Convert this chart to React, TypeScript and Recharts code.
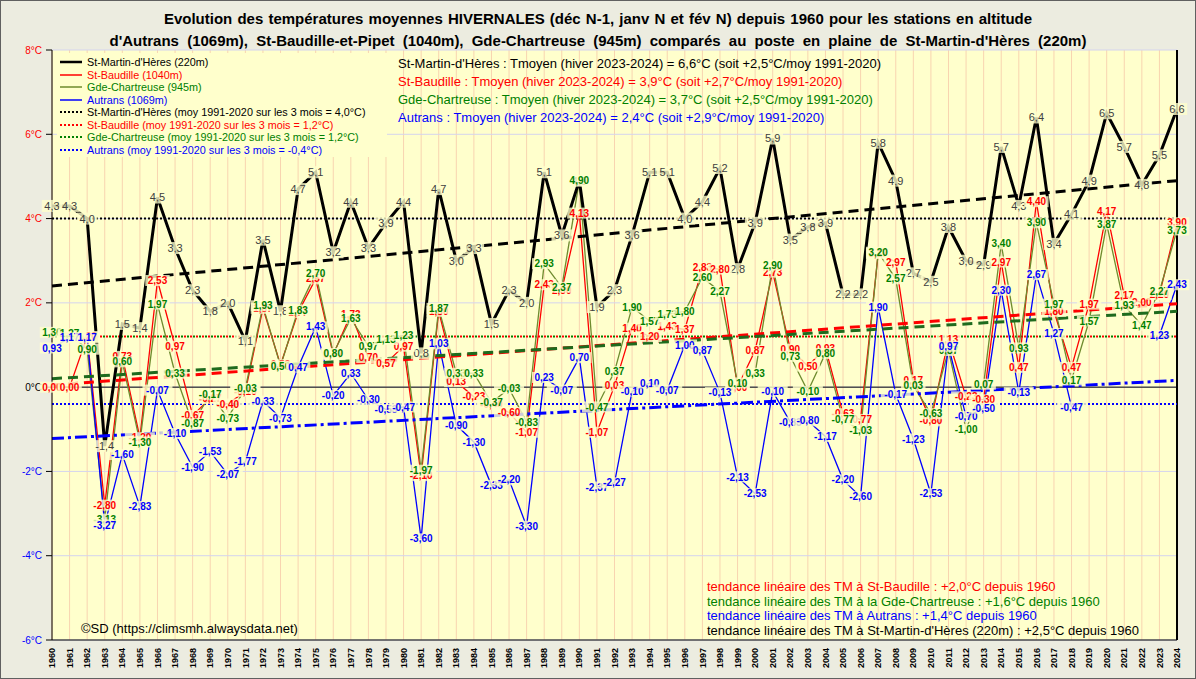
import React from "react";
import { ComposedChart, Line, XAxis, YAxis, CartesianGrid, ReferenceLine, LabelList } from "recharts";

const years = Array.from({ length: 65 }, (_, i) => 1960 + i);

// St-Martin-d'Hères (220m)
const stMartin = [
  4.3, 4.3, 4.0, -1.4, 1.5, 1.4, 4.5, 3.3, 2.3, 1.8,
  2.0, 1.1, 3.5, 1.8, 4.7, 5.1, 3.2, 4.4, 3.3, 3.9,
  4.4, 0.8, 4.7, 3.0, 3.3, 1.5, 2.3, 2.0, 5.1, 3.6,
  4.9, 1.9, 2.3, 3.6, 5.1, 5.1, 4.0, 4.4, 5.2, 2.8,
  3.9, 5.9, 3.5, 3.8, 3.9, 2.2, 2.2, 5.8, 4.9, 2.7,
  2.5, 3.8, 3.0, 2.9, 5.7, 4.3, 6.4, 3.4, 4.1, 4.9,
  6.5, 5.7, 4.8, 5.5, 6.6,
];

// St-Baudille (1040m)
const stBaudille = [
  0.0, 0.0, 1.2, -2.8, 0.73, -1.2, 2.53, 0.97, -0.67, -0.27,
  -0.4, -0.1, 1.87, 0.53, 1.77, 2.57, 0.77, 1.73, 0.7, 0.57,
  0.97, -2.1, 1.8, 0.13, -0.23, -0.4, -0.6, -1.07, 2.43, 2.3,
  4.13, -1.07, 0.03, 1.4, 1.2, 1.43, 1.37, 2.83, 2.8, 0.0,
  0.87, 2.73, 0.9, 0.5, 0.93, -0.63, -0.77, 3.17, 2.97, 0.17,
  -0.8, 1.13, -0.23, -0.3, 2.97, 0.47, 4.4, 1.8, 0.47, 1.97,
  4.17, 2.17, 2.0, 2.2, 3.9,
];

// Gde-Chartreuse (945m)
const chartreuse = [
  1.3, 1.27, 0.9, -3.13, 0.6, -1.3, 1.97, 0.33, -0.87, -0.17,
  -0.73, -0.03, 1.93, 0.5, 1.83, 2.7, 0.8, 1.63, 0.97, 1.13,
  1.23, -1.97, 1.87, 0.33, 0.33, -0.37, -0.03, -0.83, 2.93, 2.37,
  4.9, -0.47, 0.37, 1.9, 1.57, 1.73, 1.8, 2.6, 2.27, 0.1,
  0.33, 2.9, 0.73, -0.1, 0.8, -0.77, -1.03, 3.2, 2.57, 0.03,
  -0.63, 0.87, -1.0, 0.07, 3.4, 0.93, 3.9, 1.97, 0.17, 1.57,
  3.87, 1.93, 1.47, 2.27, 3.73,
];

// Autrans (1069m)
const autrans = [
  0.93, 1.17, 1.17, -3.27, -1.6, -2.83, -0.07, -1.1, -1.9, -1.53,
  -2.07, -1.77, -0.33, -0.73, 0.47, 1.43, -0.2, 0.33, -0.3, -0.53,
  -0.47, -3.6, 1.03, -0.9, -1.3, -2.33, -2.2, -3.3, 0.23, -0.07,
  0.7, -2.37, -2.27, -0.1, 0.1, -0.07, 1.0, 0.87, -0.13, -2.13,
  -2.53, -0.1, -0.83, -0.8, -1.17, -2.2, -2.6, 1.9, -0.17, -1.23,
  -2.53, 0.97, -0.7, -0.5, 2.3, -0.13, 2.67, 1.27, -0.47, null,
  null, null, null, 1.23, 2.43,
];

// linear trends: value in 1960, value in 2024
const trendBlack = [2.4, 4.9];
const trendRed = [0.05, 1.98];
const trendGreen = [0.2, 1.8];
const trendBlue = [-1.22, 0.16];

// 1991-2020 means
const avgBlack = 4.0;
const avgRed = 1.2;
const avgGreen = 1.2;
const avgBlue = -0.4;

const yTicks = [-6, -4, -2, 0, 2, 4, 6, 8];

const last = years.length - 1;
const data = years.map((year, i) => ({
  year,
  smh: stMartin[i],
  sbp: stBaudille[i],
  gch: chartreuse[i],
  aut: autrans[i],
  tBlack: i === 0 ? trendBlack[0] : i === last ? trendBlack[1] : null,
  tRed: i === 0 ? trendRed[0] : i === last ? trendRed[1] : null,
  tGreen: i === 0 ? trendGreen[0] : i === last ? trendGreen[1] : null,
  tBlue: i === 0 ? trendBlue[0] : i === last ? trendBlue[1] : null,
}));

const FONT = "'Liberation Sans', Arial, sans-serif";
const PLOT_BG = "#FFFFCC";
const GREEN_TXT = "#008000";
const GREEN_LINE = "#6E8B2E";

const makeLabel = (color: string, digits: number, size: number, weight: string) => (props: any) => {
  const { x, y, value } = props;
  if (value == null || x == null || y == null) return null;
  const txt = Number(value).toFixed(digits).replace(".", ",");
  const w = txt.length * size * 0.56 + 2;
  const h = size + 1;
  return (
    <g>
      <rect x={x - w / 2} y={y - h / 2} width={w} height={h} fill={PLOT_BG} fillOpacity={0.8} />
      <text x={x} y={y} dy="0.36em" textAnchor="middle" fill={color} fontSize={size} fontWeight={weight} fontFamily={FONT}>
        {txt}
      </text>
    </g>
  );
};

const YTick = (props: any) => {
  const { x, y, payload } = props;
  const v = payload.value;
  const color = v > 0 ? "#FF0000" : v < 0 ? "#0000FF" : "#000000";
  return (
    <text x={x - 2} y={y} dy="0.35em" textAnchor="end" fill={color} fontSize={10} fontFamily={FONT}>
      {`${v}°C`}
    </text>
  );
};

const XTick = (props: any) => {
  const { x, y, payload } = props;
  return (
    <text
      x={x}
      y={y}
      transform={`rotate(-90, ${x}, ${y})`}
      dy="0.35em"
      textAnchor="end"
      fill="#000"
      fontSize={9}
      fontWeight="bold"
      fontFamily={FONT}
    >
      {payload.value}
    </text>
  );
};

const legendRows = [
  { text: "St-Martin-d'Hères (220m)", color: "#000", line: "#000", dash: "", w: 2.5 },
  { text: "St-Baudille (1040m)", color: "#FF0000", line: "#FF0000", dash: "", w: 1.5 },
  { text: "Gde-Chartreuse (945m)", color: GREEN_TXT, line: GREEN_LINE, dash: "", w: 1.5 },
  { text: "Autrans (1069m)", color: "#0000FF", line: "#0000FF", dash: "", w: 1.5 },
  { text: "St-Martin-d'Hères (moy 1991-2020 sur les 3 mois = 4,0°C)", color: "#000", line: "#000", dash: "2 2", w: 2 },
  { text: "St-Baudille (moy 1991-2020 sur les 3 mois = 1,2°C)", color: "#FF0000", line: "#FF0000", dash: "2 2", w: 2 },
  { text: "Gde-Chartreuse (moy 1991-2020 sur les 3 mois = 1,2°C)", color: GREEN_TXT, line: GREEN_TXT, dash: "2 2", w: 2 },
  { text: "Autrans (moy 1991-2020 sur les 3 mois = -0,4°C)", color: "#0000FF", line: "#0000FF", dash: "2 2", w: 2 },
];

const notes = [
  { text: "St-Martin-d'Hères  : Tmoyen (hiver 2023-2024) = 6,6°C (soit +2,5°C/moy 1991-2020)", color: "#000" },
  { text: "St-Baudille : Tmoyen (hiver 2023-2024) = 3,9°C (soit +2,7°C/moy 1991-2020)", color: "#FF0000" },
  { text: "Gde-Chartreuse  : Tmoyen (hiver 2023-2024) = 3,7°C (soit +2,5°C/moy 1991-2020)", color: GREEN_TXT },
  { text: "Autrans : Tmoyen (hiver 2023-2024) = 2,4°C (soit +2,9°C/moy 1991-2020)", color: "#0000FF" },
];

const trendNotes = [
  { text: "tendance linéaire des TM à St-Baudille : +2,0°C depuis 1960", color: "#FF0000" },
  { text: "tendance linéaire des TM à la Gde-Chartreuse  : +1,6°C depuis 1960", color: GREEN_TXT },
  { text: "tendance linéaire des TM à Autrans : +1,4°C depuis 1960", color: "#0000FF" },
  { text: "tendance linéaire des TM  à St-Martin-d'Hères (220m) : +2,5°C depuis 1960", color: "#000" },
];

export default function App() {
  return (
    <div
      style={{
        position: "absolute",
        left: 0,
        top: 0,
        width: 1196,
        height: 679,
        background: "#ECECE0",
        fontFamily: FONT,
        boxSizing: "border-box",
        border: "1px solid #606060",
        overflow: "hidden",
      }}
    >
      <ComposedChart
        width={1194}
        height={677}
        data={data}
        margin={{ top: 49, right: 18, bottom: 2, left: 11 }}
      >
        <CartesianGrid horizontal={false} stroke="#F8D4B0" fill={PLOT_BG} />
        <CartesianGrid vertical={false} stroke="#D4D4EE" />
        <XAxis
          dataKey="year"
          type="number"
          domain={[1960, 2024]}
          ticks={years}
          interval={0}
          height={36}
          tick={<XTick />}
          tickLine={false}
          axisLine={{ stroke: "#000" }}
        />
        <YAxis
          domain={[-6, 8]}
          ticks={yTicks}
          width={40}
          tick={<YTick />}
          tickLine={{ stroke: "#000" }}
          axisLine={{ stroke: "#000" }}
          allowDataOverflow
        />
        <ReferenceLine y={0} stroke="#000" strokeWidth={1} />
        <ReferenceLine x={2024} stroke="#000" strokeWidth={2} />
        <ReferenceLine y={avgBlack} stroke="#000" strokeWidth={2} strokeDasharray="2 2" />
        <ReferenceLine y={avgRed} stroke="#FF0000" strokeWidth={2} strokeDasharray="2 4" />
        <ReferenceLine y={avgGreen} stroke={GREEN_TXT} strokeWidth={2} strokeDasharray="2 4" strokeDashoffset={3} />
        <ReferenceLine y={avgBlue} stroke="#0000FF" strokeWidth={2} strokeDasharray="2 2" />

        <Line dataKey="sbp" stroke="#FF0000" strokeWidth={1.3} dot={false} isAnimationActive={false} type="linear" />
        <Line dataKey="gch" stroke={GREEN_LINE} strokeWidth={1.3} dot={false} isAnimationActive={false} type="linear" />
        <Line dataKey="aut" stroke="#0000FF" strokeWidth={1.3} dot={false} isAnimationActive={false} type="linear" />
        <Line dataKey="smh" stroke="#000" strokeWidth={3} dot={false} isAnimationActive={false} type="linear" />

        <Line dataKey="tBlack" stroke="#000" strokeWidth={3} strokeDasharray="10 6" dot={false} connectNulls isAnimationActive={false} />
        <Line dataKey="tRed" stroke="#FF0000" strokeWidth={3} strokeDasharray="10 6" dot={false} connectNulls isAnimationActive={false} />
        <Line dataKey="tGreen" stroke="#1E6B1E" strokeWidth={3} strokeDasharray="10 6" dot={false} connectNulls isAnimationActive={false} />
        <Line dataKey="tBlue" stroke="#0000FF" strokeWidth={3} strokeDasharray="12 4 3 4" dot={false} connectNulls isAnimationActive={false} />

        <Line dataKey="smh" stroke="none" dot={false} isAnimationActive={false}>
          <LabelList dataKey="smh" content={makeLabel("#404040", 1, 11, "normal")} />
        </Line>
        <Line dataKey="sbp" stroke="none" dot={false} isAnimationActive={false}>
          <LabelList dataKey="sbp" content={makeLabel("#FF0000", 2, 10, "bold")} />
        </Line>
        <Line dataKey="gch" stroke="none" dot={false} isAnimationActive={false}>
          <LabelList dataKey="gch" content={makeLabel(GREEN_TXT, 2, 10, "bold")} />
        </Line>
        <Line dataKey="aut" stroke="none" dot={false} isAnimationActive={false}>
          <LabelList dataKey="aut" content={makeLabel("#0000FF", 2, 10, "bold")} />
        </Line>
      </ComposedChart>

      <div style={{ position: "absolute", left: 0, top: 7, width: 1194, textAlign: "center", fontWeight: "bold", fontSize: 15, lineHeight: "22px", color: "#000", whiteSpace: "nowrap" }}>
        <div style={{ wordSpacing: 1 }}>Evolution des températures moyennes HIVERNALES (déc N-1, janv N et fév N) depuis 1960 pour les stations en altitude</div>
        <div style={{ wordSpacing: 4 }}>d'Autrans (1069m), St-Baudille-et-Pipet (1040m), Gde-Chartreuse (945m) comparés au poste en plaine de St-Martin-d'Hères (220m)</div>
      </div>

      <div style={{ position: "absolute", left: 56, top: 52, width: 330, height: 104, background: PLOT_BG }}>
        {legendRows.map((r, i) => (
          <div key={i} style={{ position: "absolute", left: 3, top: 3 + i * 12.5, height: 12, display: "flex", alignItems: "center", whiteSpace: "nowrap" }}>
            <svg width={22} height={6} style={{ marginRight: 5 }}>
              <line x1={0} y1={3} x2={22} y2={3} stroke={r.line} strokeWidth={r.w} strokeDasharray={r.dash || undefined} />
            </svg>
            <span style={{ fontSize: 10.8, color: r.color }}>{r.text}</span>
          </div>
        ))}
      </div>

      <div style={{ position: "absolute", left: 397, top: 54 }}>
        {notes.map((n, i) => (
          <div key={i} style={{ fontSize: 13, lineHeight: "18px", color: n.color, whiteSpace: "nowrap" }}>
            {n.text}
          </div>
        ))}
      </div>

      <div style={{ position: "absolute", left: 706, top: 579 }}>
        {trendNotes.map((n, i) => (
          <div key={i} style={{ fontSize: 13, lineHeight: "14.6px", color: n.color, whiteSpace: "nowrap" }}>
            {n.text}
          </div>
        ))}
      </div>

      <div style={{ position: "absolute", left: 80, top: 620, fontSize: 13, color: "#000", whiteSpace: "nowrap" }}>
        ©SD (https://climsmh.alwaysdata.net)
      </div>
    </div>
  );
}
